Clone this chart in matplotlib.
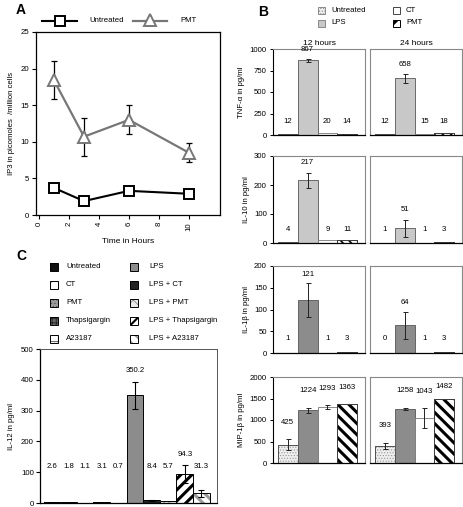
import matplotlib
matplotlib.use('Agg')
import matplotlib.pyplot as plt
from matplotlib.patches import Rectangle
import numpy as np

plt.rcParams['font.family'] = ['Liberation Sans', 'DejaVu Sans']
plt.rcParams['hatch.linewidth'] = 0.6
plt.rcParams['axes.linewidth'] = 0.8

# ---------------- data: panel A ----------------
time_hours = [1, 3, 6, 10]
ip3_untreated = [3.7, 1.9, 3.3, 2.9]
ip3_pmt = [18.4, 10.7, 13.0, 8.5]
ip3_pmt_err = [2.6, 2.6, 2.0, 1.3]

# ---------------- data: panel B ----------------
b_groups = ['Untreated', 'LPS', 'CT', 'PMT']
b_times = ['12 hours', '24 hours']
b_cytokines = ['TNF-α', 'IL-10', 'IL-1β', 'MIP-1β']
tnf_12 = [12, 867, 20, 14]
tnf_12_err = [0, 18, 0, 0]
tnf_24 = [12, 658, 15, 18]
tnf_24_err = [0, 55, 0, 0]
il10_12 = [4, 217, 9, 11]
il10_12_err = [0, 26, 0, 0]
il10_24 = [1, 51, 1, 3]
il10_24_err = [0, 29, 0, 0]
il1b_12 = [1, 121, 1, 3]
il1b_12_err = [0, 39, 0, 0]
il1b_24 = [0, 64, 1, 3]
il1b_24_err = [0, 31, 0, 0]
mip_12 = [425, 1224, 1293, 1363]
mip_12_err = [125, 60, 45, 0]
mip_24 = [393, 1258, 1043, 1482]
mip_24_err = [75, 25, 230, 0]
tnf_ticks = [0, 250, 500, 750, 1000]
il10_ticks = [0, 100, 200, 300]
il1b_ticks = [0, 50, 100, 150, 200]
mip_ticks = [0, 500, 1000, 1500, 2000]

# ---------------- data: panel C ----------------
c_groups = ['Untreated', 'CT', 'PMT', 'Thapsigargin', 'A23187',
            'LPS', 'LPS + CT', 'LPS + PMT', 'LPS + Thapsigargin', 'LPS + A23187']
il12_values = [2.6, 1.8, 1.1, 3.1, 0.7, 350.2, 8.4, 5.7, 94.3, 31.3]
il12_err = [0, 0, 0, 0, 0, 44, 2, 0, 28, 12]
il12_ticks = [0, 100, 200, 300, 400, 500]

# ---------------- layout helpers ----------------
W, H = 464, 507
fig = plt.figure(figsize=(W / 100, H / 100), dpi=100)


def add_ax(l, t, r, b):
    return fig.add_axes([l / W, 1 - b / H, (r - l) / W, (b - t) / H])


def set_hlw(p, lw):
    try:
        p.set_hatch_linewidth(lw)
    except AttributeError:
        pass


FS = 5.6

# overlay for panel letters and legends
ov = fig.add_axes([0, 0, 1, 1], zorder=-1)
ov.set_xlim(0, W)
ov.set_ylim(H, 0)
ov.axis('off')
for letter, (lx, ly) in zip('ABC', [(21, 10), (263, 12), (21, 256)]):
    ov.text(lx, ly, letter, fontsize=10, fontweight='bold', ha='center', va='center')

# ---------------- panel A ----------------
axA = add_ax(36, 32, 220, 215)
axA.errorbar(time_hours, ip3_pmt, yerr=ip3_pmt_err, fmt='none', ecolor='black',
             elinewidth=0.9, capsize=2.5, capthick=0.9, zorder=2)
axA.plot(time_hours, ip3_pmt, color='#777777', lw=1.6, marker='^', ms=8.5,
         mfc='white', mec='#777777', mew=1.4, zorder=3)
axA.plot(time_hours, ip3_untreated, color='black', lw=1.5, marker='s', ms=6.5,
         mfc='white', mec='black', mew=1.4, zorder=3)
axA.set_xlim(-0.2, 12.07)
axA.set_ylim(0, 25)
axA.set_xticks(range(0, 11, 2))
axA.set_yticks(range(0, 26, 5))
axA.tick_params(axis='both', direction='out', length=3, width=0.8, labelsize=FS, pad=2)
plt.setp(axA.get_xticklabels(), rotation=90)
axA.set_xlabel('Time in Hours', fontsize=6, labelpad=5)
axA.set_ylabel('IP3 in picomoles  /million cells', fontsize=5.6, labelpad=4)
for s in axA.spines.values():
    s.set_linewidth(0.9)

# legend A
ov.plot([42, 77], [21, 21], color='black', lw=1.5)
ov.plot([60], [21], marker='s', ms=6.5, mfc='white', mec='black', mew=1.4)
ov.text(89, 21, 'Untreated', fontsize=FS, va='center')
ov.plot([133, 167], [21, 21], color='#777777', lw=1.6)
ov.plot([150], [20], marker='^', ms=8.5, mfc='white', mec='#777777', mew=1.4)
ov.text(180, 21, 'PMT', fontsize=FS, va='center')

# ---------------- panel B ----------------
b_data = [
    (tnf_12, tnf_12_err, tnf_24, tnf_24_err, tnf_ticks),
    (il10_12, il10_12_err, il10_24, il10_24_err, il10_ticks),
    (il1b_12, il1b_12_err, il1b_24, il1b_24_err, il1b_ticks),
    (mip_12, mip_12_err, mip_24, mip_24_err, mip_ticks),
]
b_rows = [(49, 135), (156, 243), (266, 353), (377, 463)]
b_cols = [(273, 365), (370, 462)]
lps_shade = ['#c8c8c8', '#c8c8c8', '#8c8c8c', '#8c8c8c']
label_pad = [0.11, 0.12, 0.10, 0.20]
label_floor = [0.16, 0.15, 0.17, 0.0]
label_cap = [1.0, 1.0, 1.0, 0.885]

for r, (v12, e12, v24, e24, ticks) in enumerate(b_data):
    top, bot = b_rows[r]
    ymax = ticks[-1]
    big = r == 3
    for c, (vals, errs) in enumerate([(v12, e12), (v24, e24)]):
        l, rr = b_cols[c]
        ax = add_ax(l, top, rr, bot)
        x = np.arange(len(vals))
        styles = [
            dict(color='#eeeeee', edgecolor='#999999', hatch='......', hlw=0.5),
            dict(color=lps_shade[r], edgecolor='#555555', hatch=None, hlw=0.5),
            dict(color='white', edgecolor='#777777', hatch=None, hlw=0.5),
            dict(color='white', edgecolor='black', hatch='\\\\\\' if big else '\\\\\\\\',
                 hlw=2.2 if big else 1.2),
        ]
        for i, st in enumerate(styles):
            bars = ax.bar(x[i], vals[i], width=1.0, color=st['color'],
                          edgecolor=st['edgecolor'], hatch=st['hatch'], linewidth=0.6)
            for p in bars:
                set_hlw(p, st['hlw'])
            if st['hatch'] is not None:
                ax.bar(x[i], vals[i], width=1.0, fill=False, edgecolor='#444444', linewidth=0.6)
        for i in range(len(vals)):
            if errs[i] > 0:
                ax.errorbar(x[i], vals[i], yerr=errs[i], fmt='none', ecolor='#222222',
                            elinewidth=0.7, capsize=1.8, capthick=0.7)
            ly = max(vals[i] + errs[i] + label_pad[r] * ymax, label_floor[r] * ymax)
            ly = min(ly, label_cap[r] * ymax)
            ax.text(x[i], ly, str(vals[i]), ha='center', va='center', fontsize=FS)
        ax.set_xlim(-0.75, 3.9)
        ax.set_ylim(0, ymax)
        ax.set_xticks([])
        ax.set_yticks(ticks)
        for name, s in ax.spines.items():
            s.set_color('black' if name == 'bottom' else '#888888')
            s.set_linewidth(0.9 if name == 'bottom' else 0.8)
        if c == 0:
            ax.spines['left'].set_color('black')
            ax.tick_params(axis='y', direction='out', length=2.5, width=0.7,
                           labelsize=FS, pad=2)
            ax.set_ylabel(b_cytokines[r] + ' in pg/ml', fontsize=5.6, labelpad=3)
        else:
            ax.tick_params(axis='y', length=0, labelleft=False)
        if r == 0:
            ax.set_title(b_times[c], fontsize=6, pad=3)

# legend B
leg_b = [
    (322, 10, dict(facecolor='#eeeeee', edgecolor='#888888', hatch='......'), 0.5),
    (322, 23, dict(facecolor='#c8c8c8', edgecolor='#888888'), 0.5),
    (397, 10, dict(facecolor='white', edgecolor='#444444'), 0.5),
    (397, 23, dict(facecolor='white', edgecolor='black', hatch='//'), 2.5),
]
for (mx, my, kw, hlw), name in zip(leg_b, b_groups):
    p = Rectangle((mx - 3.5, my - 3.5), 7, 7, linewidth=0.7, **kw)
    set_hlw(p, hlw)
    ov.add_patch(p)
    ov.text(mx + 9, my, name, fontsize=FS, va='center')

# ---------------- panel C ----------------
axC = add_ax(40, 349, 217, 503)
c_styles = [
    dict(face='#111111', hc='#111111', hatch=None, hlw=0.5),
    dict(face='white', hc='#444444', hatch='/', hlw=0.6),
    dict(face='#9a9a9a', hc='#555555', hatch='.....', hlw=0.5),
    dict(face='#666666', hc='#222222', hatch='++++', hlw=0.6),
    dict(face='white', hc='#444444', hatch='+', hlw=0.6),
    dict(face='#8c8c8c', hc='#8c8c8c', hatch=None, hlw=0.5),
    dict(face='#222222', hc='white', hatch='-', hlw=1.0),
    dict(face='#e8e8e8', hc='#888888', hatch='xx', hlw=0.6),
    dict(face='white', hc='black', hatch='///', hlw=2.2),
    dict(face='white', hc='#999999', hatch='\\\\\\', hlw=2.2),
]
xc = np.arange(len(il12_values))
for i, st in enumerate(c_styles):
    bars = axC.bar(xc[i], il12_values[i], width=1.0, color=st['face'],
                   edgecolor=st['hc'], hatch=st['hatch'], linewidth=0)
    for p in bars:
        set_hlw(p, st['hlw'])
    axC.bar(xc[i], il12_values[i], width=1.0, fill=False, edgecolor='black', linewidth=0.7)
for i in range(len(il12_values)):
    if il12_err[i] > 0:
        axC.errorbar(xc[i], il12_values[i], yerr=il12_err[i], fmt='none', ecolor='black',
                     elinewidth=0.8, capsize=2.5, capthick=0.8)
    ly = max(il12_values[i] + il12_err[i] + 35, 120)
    axC.text(xc[i], ly, f'{il12_values[i]:.1f}', ha='center', va='center', fontsize=FS)
axC.set_xlim(-0.72, 9.94)
axC.set_ylim(0, 500)
axC.set_xticks([])
axC.set_yticks(il12_ticks)
axC.tick_params(axis='y', direction='out', length=3, width=0.8, labelsize=FS, pad=1.5)
axC.set_ylabel('IL-12 in pg/ml', fontsize=5.6, labelpad=4)
for name, s in axC.spines.items():
    s.set_linewidth(0.9 if name in ('left', 'bottom') else 0.7)
    if name in ('top', 'right'):
        s.set_color('#555555')

# legend C
rows_y = [267, 285, 303, 321, 339]
for i, (name, st) in enumerate(zip(c_groups, c_styles)):
    col = i // 5
    my = rows_y[i % 5]
    mx = 54 if col == 0 else 134
    p = Rectangle((mx - 4, my - 4), 8, 8, facecolor=st['face'], edgecolor=st['hc'],
                  hatch=st['hatch'], linewidth=0)
    set_hlw(p, min(st['hlw'], 1.5))
    ov.add_patch(p)
    ov.add_patch(Rectangle((mx - 4, my - 4), 8, 8, fill=False, edgecolor='black', linewidth=0.7))
    ov.text(mx + 12 if col == 0 else mx + 15, my, name, fontsize=FS, va='center')

fig.savefig('out.png', dpi=100)
